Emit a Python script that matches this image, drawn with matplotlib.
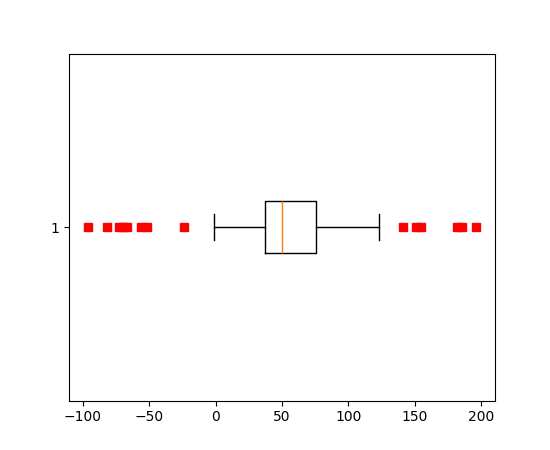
import matplotlib
matplotlib.use('Agg')
import matplotlib.pyplot as plt

# box statistics
q1 = 37.6
median = 50.0
q3 = 76.0
whisker_low = -1.3
whisker_high = 123.0
fliers_low = [-96, -82, -73, -70, -67, -56, -52, -24]
fliers_high = [141, 151, 155, 182, 186, 196]

stats = [{
    'label': '1',
    'q1': q1,
    'med': median,
    'q3': q3,
    'whislo': whisker_low,
    'whishi': whisker_high,
    'fliers': fliers_low + fliers_high,
}]

fig, ax = plt.subplots(figsize=(5.5, 4.5), dpi=100)
ax.bxp(stats, orientation='horizontal',
       flierprops=dict(marker='s', markerfacecolor='r', markeredgecolor='r',
                       linestyle='none'))
fig.savefig('out.png')
